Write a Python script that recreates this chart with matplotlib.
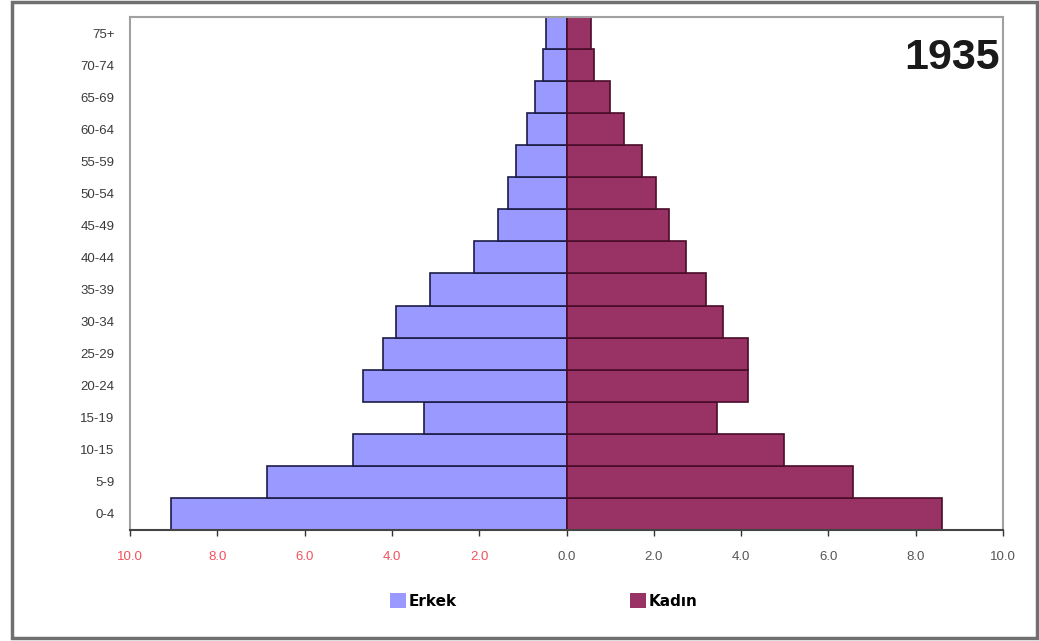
import matplotlib.pyplot as plt
from matplotlib.patches import Patch, Rectangle

# Age groups, bottom to top
age_groups = ["0-4", "5-9", "10-15", "15-19", "20-24", "25-29", "30-34", "35-39",
              "40-44", "45-49", "50-54", "55-59", "60-64", "65-69", "70-74", "75+"]

# Share of population (%) by sex, 1935
erkek = [9.07, 6.87, 4.89, 3.27, 4.67, 4.21, 3.91, 3.13,
         2.12, 1.57, 1.34, 1.16, 0.91, 0.73, 0.55, 0.46]
kadin = [8.61, 6.57, 4.99, 3.45, 4.16, 4.16, 3.59, 3.20,
         2.74, 2.35, 2.05, 1.73, 1.32, 0.99, 0.64, 0.57]

x_ticks = [-10, -8, -6, -4, -2, 0, 2, 4, 6, 8, 10]
x_tick_labels = ["10.0", "8.0", "6.0", "4.0", "2.0", "0.0", "2.0", "4.0", "6.0", "8.0", "10.0"]

MALE_COLOR = "#9999ff"
FEMALE_COLOR = "#993366"

plt.rcParams["font.family"] = ["Liberation Sans", "DejaVu Sans"]

fig = plt.figure(figsize=(10.39, 6.41), dpi=100)
ax = fig.add_axes([0.1251, 0.1732, 0.8403, 0.8003])

y_pos = range(len(age_groups))
ax.barh(y_pos, [-v for v in erkek], height=1.0, color=MALE_COLOR,
        edgecolor="#1c1c45", linewidth=1.2)
ax.barh(y_pos, kadin, height=1.0, color=FEMALE_COLOR,
        edgecolor="#4a0c2a", linewidth=1.2)

ax.set_xlim(-10, 10)
ax.set_ylim(-0.5, len(age_groups) - 0.5)

ax.set_yticks(list(y_pos))
ax.set_yticklabels(age_groups, fontsize=9.5, color="#3a3a3a")
ax.tick_params(axis="y", length=0, pad=11)

ax.set_xticks(x_ticks)
ax.set_xticklabels(x_tick_labels, fontsize=9.5)
ax.tick_params(axis="x", length=4, width=1, color="#333333", pad=11)
for tick, lab in zip(x_ticks, ax.get_xticklabels()):
    lab.set_color("#f0505e" if tick < 0 else "#555555")

for side in ["left", "top", "right"]:
    ax.spines[side].set_color("#a0a0a0")
    ax.spines[side].set_linewidth(1.5)
ax.spines["bottom"].set_color("#444444")
ax.spines["bottom"].set_linewidth(1.5)

ax.text(0.9965, 0.92, "1935", transform=ax.transAxes, ha="right", va="center",
        fontsize=31, fontweight="bold", color="#1a1a1a")

handles = [Patch(facecolor=MALE_COLOR, edgecolor="none", label="Erkek"),
           Patch(facecolor=FEMALE_COLOR, edgecolor="none", label="Kadın")]
fig.legend(handles=handles, loc="center left", bbox_to_anchor=(0.362, 0.062), ncol=2,
           frameon=False, handlelength=1.05, handleheight=1.1, handletextpad=0.2,
           columnspacing=11.3,
           prop={"family": "DejaVu Sans", "size": 11, "weight": "bold"})

# outer frame around the whole chart
fig.patches.append(Rectangle((0.0115, 0.004), 0.987, 0.993, transform=fig.transFigure,
                             fill=False, edgecolor="#707070", linewidth=2.5))

fig.savefig("out.png", dpi=100)
